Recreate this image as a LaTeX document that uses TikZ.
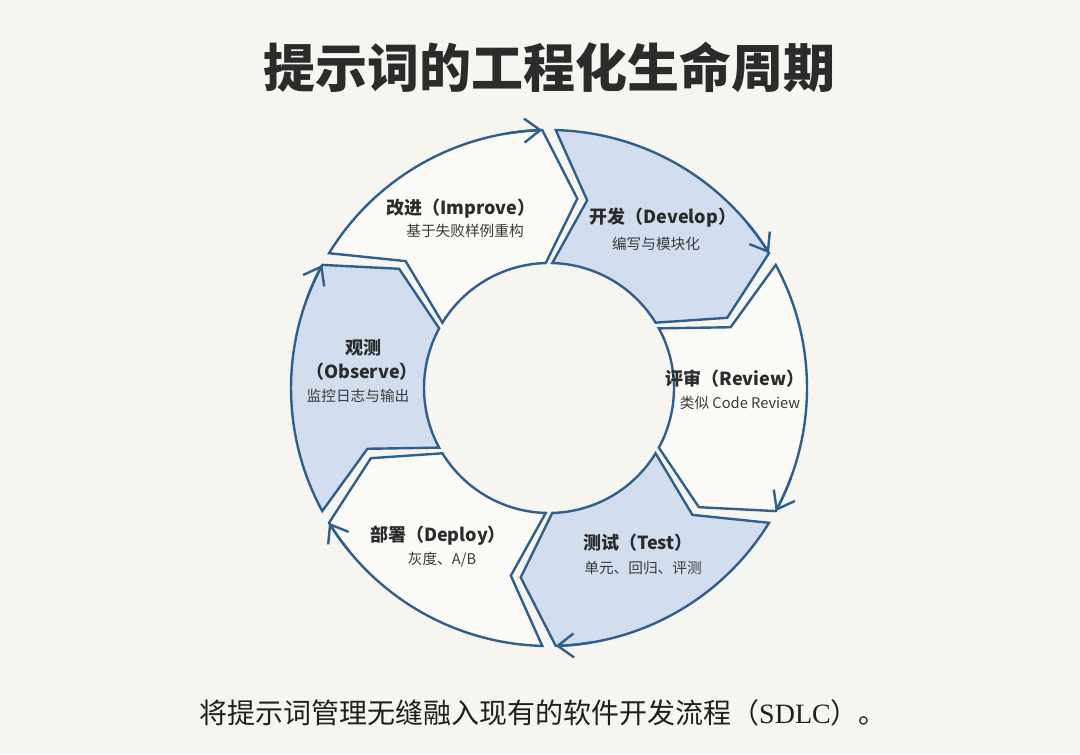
\documentclass[tikz,border=0pt]{standalone}
\usepackage{fontspec}
\setmainfont{Noto Sans CJK SC}
\newfontfamily\enserif{Liberation Serif}
\usetikzlibrary{arrows.meta}
\definecolor{bg}{HTML}{F7F5F0}
\definecolor{edge}{HTML}{2E5F8E}
\definecolor{bluefill}{HTML}{D2DEED}
\definecolor{whitefill}{HTML}{FBFAF7}
\definecolor{titlec}{HTML}{2B2B2B}
\definecolor{subc}{HTML}{3A3A3A}
\newcommand\cycseg[3]{%
  \filldraw[seg, fill=#3] (#1:258) arc[start angle=#1, end angle=#2, radius=258]
    -- ({#2-10}:191.5) -- (#2:125) arc[start angle=#2, end angle=#1, radius=125]
    -- ({#1-10}:191.5) -- cycle;
  \draw[barb] ({#2+8}:258) arc[start angle={#2+8}, end angle=#2, radius=258];
}
\begin{document}
\begin{tikzpicture}[x=0.75pt,y=0.75pt,
  seg/.style={draw=edge, line width=1.8pt, line join=miter},
  barb/.style={draw=edge, line width=1.8pt, -{Straight Barb[length=12pt,width=18pt]}},
  head/.style={font=\fontsize{13.5}{16}\selectfont\bfseries, text=titlec, inner sep=0pt},
  sub/.style={font=\fontsize{11}{13}\selectfont, text=subc, inner sep=0pt}]
\useasboundingbox (0,0) rectangle (1080,754);
\fill[bg] (0,0) rectangle (1080,754);
\node[font=\fontsize{39}{44}\selectfont\bfseries, text=titlec, inner sep=0pt] (title) at (549,687) {提示词的工程化生命周期};
\begin{scope}[shift={(549,366)}]
  \cycseg{88.5}{31.5}{bluefill}
  \cycseg{28.5}{-28.5}{whitefill}
  \cycseg{-31.5}{-88.5}{bluefill}
  \cycseg{-91.5}{-148.5}{whitefill}
  \cycseg{-151.5}{-208.5}{bluefill}
  \cycseg{-211.5}{-268.5}{whitefill}
\end{scope}
\node[head] (imp-h) at (461,545) {改进（Improve）};
\node[sub]  (imp-s) at (465,523) {基于失败样例重构};
\node[head] (dev-h) at (663,536) {开发（Develop）};
\node[sub]  (dev-s) at (656,510) {编写与模块化};
\node[head] (rev-h) at (735,375) {评审（Review）};
\node[sub]  (rev-s) at (740,351) {类似 Code Review};
\node[head] (tst-h) at (638,211) {测试（Test）};
\node[sub]  (tst-s) at (643,186) {单元、回归、评测};
\node[head] (dep-h) at (438,218) {部署（Deploy）};
\node[sub]  (dep-s) at (442,194) {灰度、A/B};
\node[head] (obs-h1) at (363,406) {观测};
\node[head] (obs-h2) at (362,382) {（Observe）};
\node[sub]  (obs-s) at (358,358) {监控日志与输出};
\node[font=\fontsize{21}{24}\selectfont, text=black!88, inner sep=0pt] (caption) at (543,41) {将提示词管理无缝融入现有的软件开发流程（{\enserif SDLC}）。};
\end{tikzpicture}
\end{document}
